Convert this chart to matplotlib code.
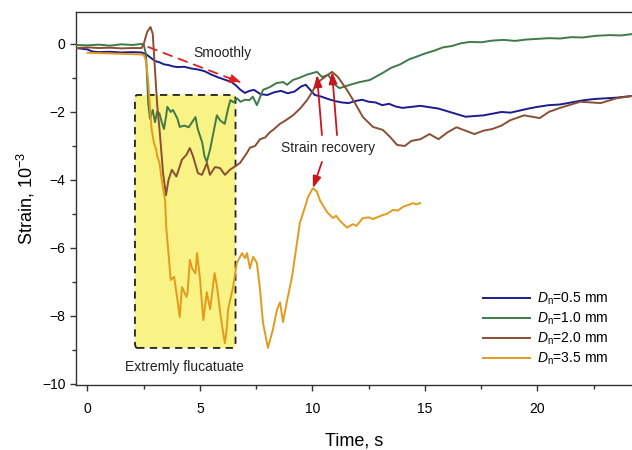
import numpy as np
import matplotlib
matplotlib.use("Agg")
import matplotlib.pyplot as plt
from matplotlib.patches import FancyBboxPatch

plt.rcParams['font.family'] = ['Liberation Sans', 'DejaVu Sans']
plt.rcParams['mathtext.fontset'] = 'custom'
plt.rcParams['mathtext.rm'] = 'Liberation Sans'
plt.rcParams['mathtext.it'] = 'Liberation Sans:italic'

# ---- data: (time s, strain 1e-3) ----
blue = [(-0.5, -0.12), (0.0, -0.16), (0.2, -0.22), (0.5, -0.24), (1.0, -0.23), (1.5, -0.25),
        (2.0, -0.24), (2.4, -0.25), (2.6, -0.3), (2.8, -0.4), (3.0, -0.5), (3.2, -0.54),
        (3.4, -0.6), (3.6, -0.62), (3.8, -0.66), (4.0, -0.68), (4.3, -0.67), (4.6, -0.72),
        (4.9, -0.75), (5.2, -0.8), (5.5, -0.9), (5.8, -0.98), (6.1, -1.05), (6.4, -1.12),
        (6.6, -1.22), (6.8, -1.35), (7.0, -1.44), (7.2, -1.38), (7.4, -1.35), (7.7, -1.48),
        (8.0, -1.5), (8.3, -1.42), (8.6, -1.38), (8.9, -1.45), (9.2, -1.4), (9.5, -1.25),
        (9.7, -1.2), (9.9, -1.35), (10.1, -1.5), (10.4, -1.55), (10.7, -1.62), (11.0, -1.68),
        (11.3, -1.72), (11.6, -1.74), (11.9, -1.68), (12.2, -1.64), (12.5, -1.7), (12.8, -1.72),
        (13.1, -1.8), (13.4, -1.76), (13.7, -1.84), (14.0, -1.88), (14.4, -1.85), (14.8, -1.82),
        (15.2, -1.86), (15.6, -1.9), (16.0, -1.98), (16.4, -2.06), (16.8, -2.14), (17.2, -2.12),
        (17.6, -2.1), (18.0, -2.05), (18.4, -2.0), (18.8, -2.02), (19.2, -1.96), (19.6, -1.9),
        (20.0, -1.85), (20.5, -1.8), (21.0, -1.78), (21.5, -1.72), (22.0, -1.66), (22.5, -1.62),
        (23.0, -1.6), (23.5, -1.58), (24.2, -1.53)]

green = [(-0.5, -0.03), (0.0, -0.04), (0.5, -0.02), (1.0, -0.05), (1.5, -0.01), (2.0, -0.03),
         (2.4, 0.0), (2.5, -0.02), (2.6, -0.3), (2.65, -1.0), (2.7, -1.74), (2.78, -2.2),
         (2.9, -1.94), (3.0, -2.3), (3.1, -1.98), (3.2, -2.05), (3.3, -2.3), (3.4, -2.5),
         (3.5, -2.1), (3.55, -1.85), (3.7, -2.0), (3.8, -1.94), (4.0, -2.2), (4.1, -2.44),
         (4.3, -2.4), (4.5, -2.45), (4.6, -2.35), (4.8, -2.15), (4.9, -2.5), (5.1, -2.9),
         (5.2, -3.3), (5.3, -3.47), (5.45, -3.1), (5.6, -2.6), (5.75, -2.1), (5.9, -2.25),
         (6.0, -2.3), (6.1, -2.35), (6.25, -1.9), (6.35, -1.65), (6.5, -1.72), (6.65, -1.6),
         (6.8, -1.7), (7.0, -1.64), (7.2, -1.65), (7.35, -1.55), (7.53, -1.8), (7.8, -1.35),
         (8.1, -1.27), (8.4, -1.15), (8.7, -1.12), (8.87, -1.2), (9.13, -1.06), (9.4, -1.0),
         (9.76, -0.9), (10.2, -0.82), (10.42, -0.97), (10.7, -0.91), (11.0, -1.2), (11.2, -1.3),
         (11.67, -1.2), (12.1, -1.12), (12.55, -1.06), (13.1, -0.86), (13.5, -0.7), (13.9, -0.6),
         (14.3, -0.45), (14.6, -0.38), (15.0, -0.28), (15.4, -0.2), (15.8, -0.1), (16.2, -0.06),
         (16.6, 0.02), (17.0, 0.06), (17.5, 0.05), (18.0, 0.1), (18.5, 0.12), (19.0, 0.09),
         (19.5, 0.13), (20.0, 0.15), (20.5, 0.17), (21.0, 0.16), (21.5, 0.2), (22.0, 0.19),
         (22.6, 0.24), (23.2, 0.26), (23.7, 0.25), (24.2, 0.29)]

brown = [(-0.5, -0.12), (0.0, -0.1), (0.5, -0.12), (1.0, -0.11), (1.5, -0.13), (2.0, -0.12),
         (2.4, -0.12), (2.5, 0.0), (2.65, 0.35), (2.8, 0.5), (2.9, 0.3), (3.0, -0.76),
         (3.1, -1.8), (3.2, -2.5), (3.36, -3.8), (3.49, -4.45), (3.6, -4.0), (3.75, -3.7),
         (3.95, -3.9), (4.2, -3.4), (4.4, -3.26), (4.55, -3.06), (4.69, -3.3), (4.91, -3.8),
         (5.09, -3.85), (5.31, -3.5), (5.44, -3.85), (5.67, -3.62), (5.89, -3.65), (6.11, -3.85),
         (6.33, -3.7), (6.56, -3.6), (6.78, -3.5), (7.09, -3.2), (7.22, -3.05), (7.45, -3.0),
         (7.67, -2.8), (7.9, -2.75), (8.1, -2.6), (8.3, -2.5), (8.55, -2.35), (8.8, -2.25),
         (9.13, -2.1), (9.45, -1.9), (9.76, -1.65), (10.0, -1.4), (10.2, -1.15), (10.55, -0.97),
         (10.87, -0.82), (11.13, -0.97), (11.53, -1.35), (11.89, -1.74), (12.24, -2.15),
         (12.69, -2.44), (13.13, -2.53), (13.44, -2.73), (13.76, -2.97), (14.1, -3.0),
         (14.4, -2.85), (14.8, -2.8), (15.2, -2.65), (15.6, -2.8), (16.0, -2.6), (16.4, -2.45),
         (16.8, -2.55), (17.2, -2.65), (17.6, -2.55), (18.0, -2.5), (18.4, -2.4), (18.8, -2.24),
         (19.4, -2.1), (20.1, -2.18), (20.5, -2.0), (21.0, -1.88), (21.5, -1.78), (21.9, -1.7),
         (22.4, -1.72), (22.8, -1.74), (23.5, -1.6), (24.2, -1.53)]

orange = [(0.0, -0.26), (0.5, -0.27), (1.0, -0.28), (1.5, -0.29), (2.0, -0.3), (2.4, -0.31),
          (2.5, -0.32), (2.6, -0.5), (2.7, -1.1), (2.78, -1.9), (2.85, -2.5), (2.95, -2.9),
          (3.05, -3.1), (3.1, -3.3), (3.2, -3.5), (3.3, -4.0), (3.45, -4.6), (3.5, -5.4),
          (3.6, -6.15), (3.7, -6.94), (3.85, -6.85), (3.98, -7.44), (4.1, -8.03), (4.2, -7.15),
          (4.4, -7.44), (4.45, -7.3), (4.55, -6.35), (4.65, -6.6), (4.8, -6.75), (4.87, -6.15),
          (5.0, -6.9), (5.1, -7.74), (5.15, -8.12), (5.3, -7.3), (5.45, -7.8), (5.65, -6.74),
          (5.75, -7.1), (5.9, -7.9), (6.03, -8.5), (6.11, -8.8), (6.2, -8.3), (6.25, -7.8),
          (6.42, -7.3), (6.47, -7.15), (6.64, -6.44), (6.87, -6.15), (7.0, -6.3), (7.09, -6.15),
          (7.22, -6.6), (7.36, -6.26), (7.53, -6.44), (7.67, -7.24), (7.8, -8.2), (8.02, -8.94),
          (8.24, -8.4), (8.42, -7.82), (8.56, -7.6), (8.69, -8.18), (8.87, -7.55), (9.09, -6.85),
          (9.22, -6.26), (9.44, -5.26), (9.67, -4.79), (9.8, -4.5), (10.02, -4.24), (10.2, -4.35),
          (10.33, -4.6), (10.64, -4.94), (10.91, -5.12), (11.05, -5.05), (11.22, -5.2),
          (11.53, -5.4), (11.8, -5.3), (11.95, -5.35), (12.24, -5.12), (12.5, -5.1),
          (12.69, -5.15), (13.13, -5.03), (13.3, -5.0), (13.58, -4.88), (13.8, -4.9),
          (14.02, -4.79), (14.2, -4.75), (14.47, -4.68), (14.6, -4.72), (14.78, -4.68)]

labels = [r"$D_\mathrm{n}$=0.5 mm", r"$D_\mathrm{n}$=1.0 mm",
          r"$D_\mathrm{n}$=2.0 mm", r"$D_\mathrm{n}$=3.5 mm"]
colors = ['#1c1c8e', '#3f7a48', '#8a4f33', '#e39a1e']

fig = plt.figure(figsize=(6.32, 4.5), dpi=100)
ax = fig.add_axes([76/632, 1 - 385/450, 1 - 76/632, (385 - 12)/450])

# yellow highlight box
box = FancyBboxPatch((2.11, -8.94), 4.47, 7.44, boxstyle="round,pad=0,rounding_size=0.1",
                     facecolor='#f8f384', edgecolor='#222222', linestyle=(0, (4, 3)),
                     linewidth=1.3, zorder=1, mutation_aspect=1.5)
ax.add_patch(box)

for data, c, lab in zip([blue, green, brown, orange], colors, labels):
    arr = np.array(data).T
    ax.plot(arr[0], arr[1], color=c, lw=1.4, label=lab, zorder=3)

red = '#c8161d'
ax.annotate('', xy=(6.87, -1.15), xytext=(2.7, -0.09),
            arrowprops=dict(arrowstyle='-|>,head_length=0.7,head_width=0.25', color='#e02020',
                            lw=1.3, linestyle=(0, (5, 4)), shrinkA=0, shrinkB=0), zorder=4)
ax.text(6.0, -0.26, 'Smoothly', fontsize=10, ha='center', va='center', color='#222222')

for start, end in [((10.42, -2.68), (10.2, -0.91)), ((11.09, -2.68), (10.87, -0.82)),
                   ((10.42, -3.47), (10.02, -4.24))]:
    ax.annotate('', xy=end, xytext=start,
                arrowprops=dict(arrowstyle='-|>,head_length=0.7,head_width=0.25', color=red,
                                lw=1.3, shrinkA=0, shrinkB=0), zorder=4)
ax.text(10.7, -3.06, 'Strain recovery', fontsize=10, ha='center', va='center', color='#222222')
ax.text(4.33, -9.5, 'Extremly flucatuate', fontsize=10, ha='center', va='center', color='#222222')

ax.set_xlim(-0.51, 24.2)
ax.set_ylim(-10.03, 0.94)
ax.set_xticks([0, 5, 10, 15, 20])
ax.set_xticks([2.5, 7.5, 12.5, 17.5, 22.5], minor=True)
ax.set_yticks([0, -2, -4, -6, -8, -10])
ax.set_yticks([-1, -3, -5, -7, -9], minor=True)
ax.tick_params(which='both', direction='out', labelsize=10, color='#333333', width=1.0)
ax.tick_params(which='major', length=4)
ax.tick_params(which='minor', length=3)
ax.tick_params(axis='x', pad=8)
for s in ['left', 'top', 'bottom']:
    ax.spines[s].set_color('#333333')
    ax.spines[s].set_linewidth(1.0)
ax.spines['right'].set_visible(False)

ax.set_xlabel('Time, s', fontsize=13, labelpad=12)
ax.set_ylabel(r'Strain, 10$^{-3}$', fontsize=13, labelpad=4)

ax.legend(loc='lower right', bbox_to_anchor=(0.97, 0.03), frameon=False, fontsize=10,
          handlelength=3.4, handletextpad=0.5, labelspacing=0.25, borderpad=0)

fig.savefig('out.png', dpi=100)
